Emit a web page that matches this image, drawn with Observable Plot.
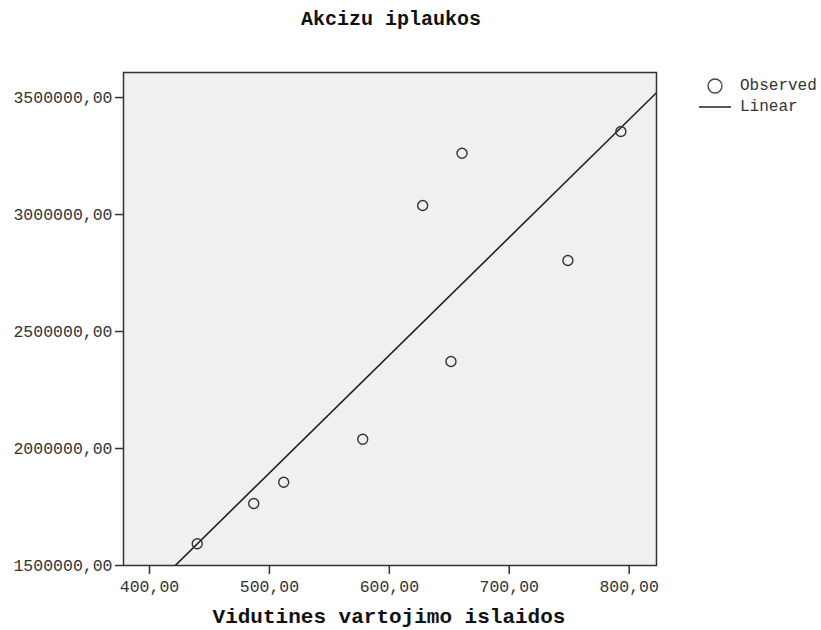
<!DOCTYPE html>
<html>
<head>
<meta charset="utf-8">
<script src="https://cdn.jsdelivr.net/npm/d3@7"></script>
<script src="https://cdn.jsdelivr.net/npm/@observablehq/plot@0.6"></script>
<style>
  html, body { margin: 0; padding: 0; background: #fff; }
  #chart { position: relative; width: 821px; height: 630px; font-family: "Liberation Mono", monospace; }
  #chart > svg { position: absolute; left: 0; top: 0; }
  .title { position: absolute; left: 0; width: 782px; top: 8px; text-align: center; font-weight: bold; font-size: 20px; color: #111; }
  .xlabel { position: absolute; left: 0; width: 778px; top: 606px; text-align: center; font-weight: bold; font-size: 21px; color: #111; }
  .legend { position: absolute; left: 698px; top: 75px; font-size: 16px; color: #333; }
  .legend div { display: flex; align-items: center; height: 21px; }
  .legend svg { display: block; margin-right: 8px; }
</style>
</head>
<body>
<div id="chart">
  <div class="title">Akcizu iplaukos</div>
  <div class="xlabel">Vidutines vartojimo islaidos</div>
  <div class="legend">
    <div><svg width="34" height="20"><circle cx="17" cy="10" r="7" fill="none" stroke="#444" stroke-width="1.3"/></svg>Observed</div>
    <div><svg width="34" height="20"><line x1="1" x2="33" y1="10" y2="10" stroke="#222" stroke-width="1.5"/></svg>Linear</div>
  </div>
</div>
<script>
// Average consumer spending (x) vs excise revenue (y)
const spending = [439.8, 486.9, 511.9, 577.8, 627.8, 660.6, 651.4, 748.9, 793.1];
const revenue  = [1592700, 1765000, 1856000, 2039700, 3038500, 3262000, 2371800, 2803400, 3354700];
const xTicks = [400, 500, 600, 700, 800];
const yTicks = [1500000, 2000000, 2500000, 3000000, 3500000];
const xDomain = [378.3, 822.8];
const yDomain = [1500000, 3607000];

const points = spending.map((x, i) => ({x, y: revenue[i]}));

// Ordinary least squares fit, extended across the full x range
const mx = d3.mean(spending), my = d3.mean(revenue);
const slope = d3.sum(points, d => (d.x - mx) * (d.y - my)) / d3.sum(points, d => (d.x - mx) ** 2);
const intercept = my - slope * mx;
const fit = xDomain.map(x => ({x, y: intercept + slope * x}));

const fmt = d3.formatLocale({decimal: ",", thousands: "", grouping: [3], currency: ["", ""]}).format(".2f");

const plot = Plot.plot({
  width: 821,
  height: 630,
  marginLeft: 123,
  marginRight: 165,
  marginTop: 72,
  marginBottom: 65,
  style: {fontFamily: "Liberation Mono, monospace", fontSize: "16.5px", color: "#333", background: "transparent"},
  x: {domain: xDomain, ticks: xTicks, tickFormat: fmt, label: null},
  y: {domain: yDomain, ticks: yTicks, tickFormat: fmt, label: null},
  marks: [
    Plot.frame({fill: "#f0f0f0"}),
    Plot.axisX({ticks: xTicks, tickFormat: fmt, tickSize: 9, tickPadding: 6, label: null, stroke: "#333", strokeWidth: 1.5}),
    Plot.axisY({ticks: yTicks, tickFormat: fmt, tickSize: 8, tickPadding: 3, label: null, stroke: "#333", strokeWidth: 1.5}),
    Plot.line(fit, {x: "x", y: "y", stroke: "#222", strokeWidth: 1.6, clip: true}),
    Plot.dot(points, {x: "x", y: "y", r: 5, stroke: "#333", strokeWidth: 1.4, fill: "none"}),
    Plot.frame({stroke: "#333", strokeWidth: 1.5})
  ]
});
document.getElementById("chart").prepend(plot);
</script>
</body>
</html>
